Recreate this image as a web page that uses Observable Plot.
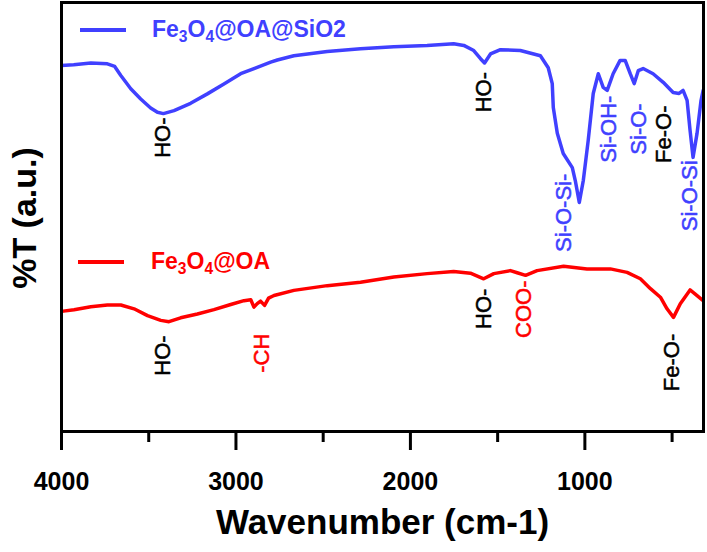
<!DOCTYPE html>
<html><head><meta charset="utf-8">
<script src="https://cdn.jsdelivr.net/npm/d3@7"></script>
<script src="https://cdn.jsdelivr.net/npm/@observablehq/plot@0.6"></script>
<style>
body{margin:0;background:#fff;}
#wrap{position:relative;width:707px;height:552px;font-family:"Liberation Sans",Arial,sans-serif;}
.leg{position:absolute;font-weight:bold;font-size:23px;white-space:nowrap;line-height:23px;}
.leg sub{font-size:0.68em;vertical-align:-0.3em;line-height:0;}
.sw{position:absolute;height:4px;width:46px;}
.ylab{position:absolute;left:24px;top:218px;transform:translate(-50%,-50%) rotate(-90deg);font-weight:bold;font-size:34px;white-space:nowrap;color:#000;}
</style></head><body><div id="wrap"></div>
<script>
// Series names and colours
const seriesNames = ["Fe3O4@OA@SiO2", "Fe3O4@OA"];
const seriesColors = ["#4040ff", "#ff0000"];

// Fe3O4@OA@SiO2 (blue) spectrum: wavenumber (cm-1) and %T (a.u.)
const blueWn = [4000,3930,3832,3737,3695,3660,3603,3546,3489,3450,3416,3355,3260,3164,3069,2973,2878,2801,2763,2668,2477,2286,2095,1904,1752,1694,1637,1598,1575,1541,1484,1370,1255,1210,1187,1181,1158,1124,1072,1055,1032,1009,981,952,923,895,872,838,798,769,740,717,694,666,609,551,494,460,437,414,397,380,357,334,322];
const blueT = [85.3,85.5,85.9,85.7,85.1,83.0,79.9,77.5,75.4,74.4,74.1,74.8,76.5,78.7,81.0,83.4,84.9,86.1,86.6,87.6,88.6,89.2,89.7,90.0,90.4,90.0,88.8,86.9,85.9,88.0,89.0,88.8,87.6,84.8,81.1,75.5,69.5,64.8,61.5,58.5,53.4,58.5,67.8,78.8,83.4,80.2,79.5,83.4,86.5,86.5,83.4,81.1,84.1,84.6,83.4,81.4,79.0,78.8,79.5,77.2,70.2,63.9,69.5,77.2,79.5];

// Fe3O4@OA (red) spectrum
const redWn = [4000,3928,3832,3737,3660,3584,3507,3431,3384,3317,3221,3126,3030,2954,2915,2897,2878,2859,2836,2813,2782,2668,2477,2286,2095,1904,1752,1656,1580,1522,1427,1388,1340,1274,1122,988,854,758,682,624,567,529,492,453,397,369,322];
const redT = [28.0,28.4,29.1,29.5,29.5,28.6,27.0,25.9,25.6,26.5,27.4,28.4,29.6,30.5,30.7,29.0,29.8,30.4,29.4,31.1,31.7,32.9,34.0,34.8,36.0,36.8,37.3,36.9,35.6,36.8,37.5,37.0,36.4,37.5,38.5,37.9,37.9,37.1,35.6,33.3,31.3,28.6,26.6,29.8,33.0,32.1,30.5];

// Peak annotations
const labelText = ["HO-","HO-","Si-O-Si-","Si-OH-","Si-O-","Fe-O-","Si-O-Si","HO-","-CH","HO-","COO-","Fe-O-"];
const labelWn   = [3420,1576,1121,864,692,549,396,3420,2849,1576,1351,501];
const labelT    = [73.2,83.8,60.1,78.3,76.5,76.0,63.2,22.4,22.8,33.3,35.2,22.8];
const labelColor= ["#000","#000","#4040ff","#4040ff","#4040ff","#000","#4040ff","#000","#ff0000","#000","#ff0000","#000"];

// Axis ticks
const majorTicks = [4000,3000,2000,1000];
const minorTicks = [3500,2500,1500,500];
const xLabel = "Wavenumber (cm-1)";
const yLabel = "%T (a.u.)";

const blue = blueWn.map((w,i)=>({w, t: blueT[i]}));
const red = redWn.map((w,i)=>({w, t: redT[i]}));
const labels = labelText.map((s,i)=>({s, w: labelWn[i], t: labelT[i], c: labelColor[i]}));

const font = "'Liberation Sans', Arial, sans-serif";
const chart = Plot.plot({
  width: 707, height: 552,
  marginLeft: 61, marginRight: 4, marginTop: 2, marginBottom: 121,
  style: {fontFamily: font, background: "#fff", overflow: "visible"},
  x: {domain: [4000, 320]},
  y: {domain: [0, 100]},
  marks: [
    Plot.line(blue, {x: "w", y: "t", stroke: seriesColors[0], strokeWidth: 3.5, clip: true}),
    Plot.line(red, {x: "w", y: "t", stroke: seriesColors[1], strokeWidth: 3.5, clip: true}),
    Plot.text(labels, {x: "w", y: "t", text: "s", fill: "c", stroke: "c", strokeWidth: 0.5, rotate: -90, textAnchor: "end", lineAnchor: "middle", fontSize: 22, fontFamily: font}),
    Plot.frame({stroke: "#000", strokeWidth: 3}),
    Plot.axisX({ticks: majorTicks, tickSize: 19, strokeWidth: 3, tickPadding: 22, tickFormat: d => String(d), fontSize: 25, fontWeight: "bold", fill: "#000", label: null}),
    Plot.axisX({ticks: minorTicks, tickSize: 11, strokeWidth: 3, tickFormat: null, text: null, label: null}),
    Plot.axisY({ticks: [], label: null}),
    Plot.text([xLabel], {frameAnchor: "bottom", dy: 91, text: d => d, fontSize: 35, fontWeight: "bold", fill: "#000", lineAnchor: "middle"})
  ]
});
const wrap = document.getElementById("wrap");
wrap.appendChild(chart);

// Y axis title
const yl = document.createElement("div");
yl.className = "ylab";
yl.textContent = yLabel;
wrap.appendChild(yl);

// Legend (inside plot area)
const legendPos = [{lx: 80, ly: 30, tx: 152}, {lx: 78, ly: 262, tx: 151}];
seriesNames.forEach((name, i) => {
  const p = legendPos[i];
  const sw = document.createElement("div");
  sw.className = "sw";
  sw.style.left = p.lx + "px"; sw.style.top = (p.ly - 2) + "px";
  sw.style.background = seriesColors[i];
  wrap.appendChild(sw);
  const t = document.createElement("div");
  t.className = "leg";
  t.style.left = p.tx + "px"; t.style.top = (p.ly - 12) + "px";
  t.style.color = seriesColors[i];
  t.innerHTML = name.replace(/Fe3O4/, "Fe<sub>3</sub>O<sub>4</sub>");
  wrap.appendChild(t);
});
</script>
</body></html>
